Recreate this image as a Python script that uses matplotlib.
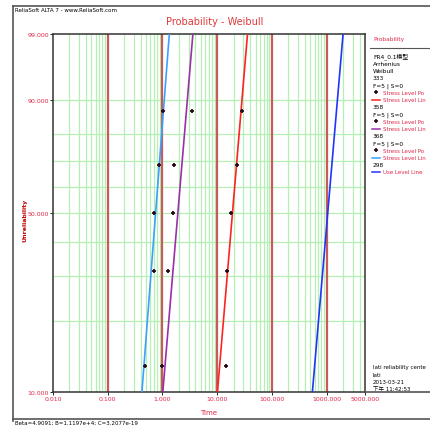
import numpy as np
import matplotlib
matplotlib.use("Agg")
import matplotlib.pyplot as plt
from matplotlib.lines import Line2D

plt.rcParams['font.family'] = ['DejaVu Sans', 'Noto Sans CJK SC']

# median ranks (%) of the 5 failures at each stress
unreliability = [12.96, 31.48, 50.0, 68.52, 87.04]
stress_levels = ['333', '358', '368']
times_333 = [14.4, 14.9, 17.5, 22.5, 28.6]
times_358 = [1.00, 1.26, 1.56, 1.60, 3.47]
times_368 = [0.48, 0.69, 0.71, 0.85, 1.02]

# fitted lines: time at 10% and at 99% unreliability
line_unrel = [10.0, 99.0]
line_333 = [10.09, 35.7]
line_358 = [1.013, 3.59]
line_368 = [0.421, 1.332]
line_298 = [547.0, 1988.0]

x_ticks = [0.01, 0.1, 1, 10, 100, 1000, 5000]
x_labels = ['0.010', '0.100', '1.000', '10.000', '100.000', '1000.000', '5000.000']
y_ticks = [10, 50, 90, 99]
y_labels = ['10.000', '50.000', '90.000', '99.000']

W, H = 431, 427
RED_TXT = '#e0284a'


def fx(x):
    return x / W


def fy(y):
    return 1 - y / H


def weib_fwd(p):
    p = np.clip(np.asarray(p, dtype=float), 1e-6, 99.9999)
    return np.log(-np.log(1 - p / 100.0))


def weib_inv(v):
    return 100.0 * (1 - np.exp(-np.exp(v)))


fig = plt.figure(figsize=(W / 100, H / 100), dpi=100)
ax = fig.add_axes([fx(53), fy(393), fx(365) - fx(53), fy(35) - fy(393)])
ax.set_xscale('log')
ax.set_yscale('function', functions=(weib_fwd, weib_inv))
ax.set_xlim(0.01, 5000)
ax.set_ylim(10, 99)

# grid: green minors, red decades
minor_x = [k * 10.0 ** d for d in range(-2, 4) for k in range(2, 10) if k * 10.0 ** d < 5000]
for v in minor_x:
    ax.axvline(v, color='#b4f0b4', lw=0.9, zorder=0)
for v in [0.1, 1, 10, 100, 1000]:
    ax.axvline(v, color='#c85a5a', lw=1.6, zorder=1)
for p in [20, 30, 40, 50, 60, 70, 80, 90]:
    ax.axhline(p, color='#b4f0b4', lw=0.9, zorder=0)

colors = {'333': '#ff2222', '358': '#9a2fa8', '368': '#3aa0ff'}
lines = {'333': line_333, '358': line_358, '368': line_368}
times = {'333': times_333, '358': times_358, '368': times_368}
for s in stress_levels:
    ax.plot(lines[s], line_unrel, color=colors[s], lw=1.2, zorder=3)
    ax.plot(times[s], unreliability, ls='none', marker='+', ms=3.5, mew=1.3,
            color='#2a0a1a', zorder=4)
ax.plot(line_298, line_unrel, color='#2233ff', lw=1.2, zorder=3)

ax.set_xticks(x_ticks)
ax.set_xticklabels(x_labels)
ax.set_xticks([], minor=True)
ax.set_yticks(y_ticks)
ax.set_yticklabels(y_labels)
ax.set_yticks([], minor=True)
ax.tick_params(labelsize=4.5, labelcolor=RED_TXT, length=2, width=0.6, pad=1)
for sp in ax.spines.values():
    sp.set_color('#333333')
    sp.set_linewidth(1.1)

ax.set_xlabel('Time', fontsize=5, color=RED_TXT, labelpad=6)
fig.text(fx(25), fy(220), 'Unreliability', rotation=90, fontsize=4.5,
         color='#c00000', weight='bold', ha='center', va='center')

fig.text(fx(215), fy(22), 'Probability - Weibull', fontsize=7,
         color='#e03a3a', ha='center', va='center')
fig.text(fx(15), fy(10), 'ReliaSoft ALTA 7 - www.ReliaSoft.com', fontsize=4,
         color='black', ha='left', va='center')
fig.text(fx(15), fy(421), 'Beta=4.9091; B=1.1197e+4; C=3.2077e-19', fontsize=4,
         color='black', ha='left', va='top')

# outer frame
frame = dict(color='#555555', lw=1.2, transform=fig.transFigure)
fig.add_artist(Line2D([fx(13), fx(13)], [fy(7), fy(422)], **frame))
fig.add_artist(Line2D([fx(13), 1], [fy(7), fy(7)], **frame))
fig.add_artist(Line2D([fx(13), 1], [fy(420), fy(420)], **frame))
fig.add_artist(Line2D([fx(365), 1], [fy(393), fy(393)], **frame))
fig.add_artist(Line2D([fx(370), 1], [fy(49), fy(49)], color='#555555', lw=0.8,
                      transform=fig.transFigure))

# legend panel (text cut where the panel ends, as in the source)
fig.text(fx(373), fy(40), 'Probability', fontsize=4.2, color=RED_TXT, va='center')
rows = [('t', 'FR4_0.1模型'), ('t', 'Arrhenius'), ('t', 'Weibull')]
for s in stress_levels:
    rows += [('t', s), ('t', 'F=5 | S=0'), ('p', 'Stress Level Po'),
             ('l', 'Stress Level Lin', colors[s])]
rows += [('t', '298'), ('l', 'Use Level Line', '#2233ff')]
y = 57
for r in rows:
    if r[0] == 't':
        fig.text(fx(373), fy(y), r[1], fontsize=4.2, color='black', va='center')
    elif r[0] == 'p':
        fig.add_artist(Line2D([fx(376)], [fy(y)], marker='+', ms=3, mew=1.2,
                              color='#2a0a1a', transform=fig.transFigure))
        fig.text(fx(383), fy(y), r[1], fontsize=4.0, color=RED_TXT, va='center')
    else:
        fig.add_artist(Line2D([fx(372), fx(380)], [fy(y), fy(y)], color=r[2], lw=1.1,
                              transform=fig.transFigure))
        fig.text(fx(383), fy(y), r[1], fontsize=4.0, color=RED_TXT, va='center')
    y += 7.25

info = ['lati reliability cente', 'lati', '2013-03-21', '下午 11:42:53']
for i, t in enumerate(info):
    fig.text(fx(373), fy(368 + 7.2 * i), t, fontsize=4.0, color='black', va='center')

fig.savefig('out.png', dpi=100)
